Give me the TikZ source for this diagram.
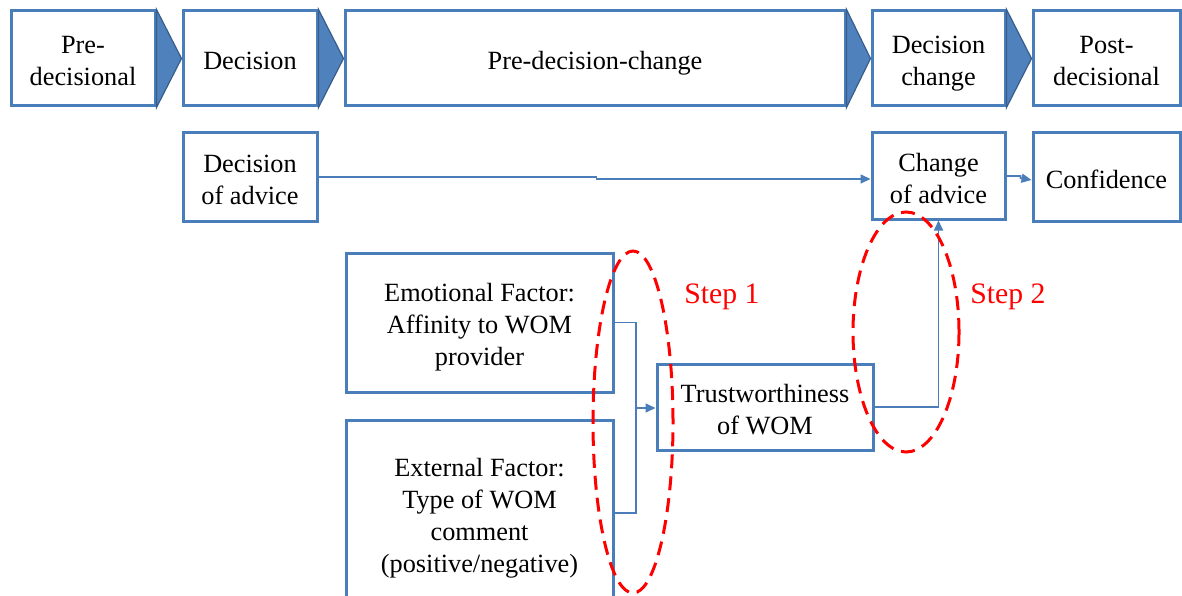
\documentclass[tikz,border=0pt]{standalone}
\usepackage{fontspec}
\setmainfont{Liberation Serif}
\usetikzlibrary{arrows.meta,calc}
\definecolor{boxblue}{RGB}{74,126,187}
\definecolor{chevfill}{RGB}{79,129,189}
\definecolor{chevline}{RGB}{56,93,138}
\definecolor{stepred}{RGB}{255,0,0}
% centred stack of lines with even strut spacing, set slightly low in its box
\newcommand\lines[1]{\raisebox{-5pt}[\height][\depth]{\begin{tabular}{@{}c@{}}#1\end{tabular}}}
\tikzset{
  stagebox/.style={draw=boxblue, line width=3pt, fill=white, inner sep=0pt,
    font=\fontsize{26.3}{32}\selectfont},
  chevron/.style={fill=chevfill, draw=chevline, line width=1.2pt, line join=miter},
  link/.style={draw=boxblue, line width=1.6pt},
  linkarrow/.style={link, -{Triangle[length=10pt,width=9pt]}},
  reddash/.style={draw=stepred, line width=3pt, dash pattern=on 14pt off 8pt},
  steplabel/.style={text=stepred, font=\fontsize{29.7}{34}\selectfont, inner sep=0pt}
}
\begin{document}
\begin{tikzpicture}[x=1pt, y=-1pt]
\useasboundingbox (0,0) rectangle (1182,596);
\clip (0,0) rectangle (1182,596);

% stage row
\node[stagebox, minimum width=144pt, minimum height=95pt] (pre)  at (83,58.5)    {\lines{Pre-\\decisional}};
\node[stagebox, minimum width=134pt, minimum height=95pt] (dec)  at (250,58.5)   {\lines{Decision}};
\node[stagebox, minimum width=500pt, minimum height=95pt] (pdc)  at (595,58.5)   {\lines{Pre-decision-change}};
\node[stagebox, minimum width=133pt, minimum height=95pt] (dch)  at (938.5,58.5) {\lines{Decision\\change}};
\node[stagebox, minimum width=147pt, minimum height=95pt] (post) at (1106.5,58.5) {\lines{Post-\\decisional}};

% chevrons between stages
\filldraw[chevron] (pre.north east) -- (dec.west) -- (pre.south east) -- cycle;
\filldraw[chevron] (dec.north east) -- (pdc.west) -- (dec.south east) -- cycle;
\filldraw[chevron] (pdc.north east) -- (dch.west) -- (pdc.south east) -- cycle;
\filldraw[chevron] (dch.north east) -- (post.west) -- (dch.south east) -- cycle;

% advice row
\node[stagebox, minimum width=134pt, minimum height=88pt] (doa)  at (250,177)    {\lines{Decision\\of advice}};
\node[stagebox, minimum width=133pt, minimum height=86pt] (coa)  at (938.5,176)  {\lines{Change\\of advice}};
\node[stagebox, minimum width=147pt, minimum height=88pt] (conf) at (1106.5,177) {\lines{Confidence}};

% factors and trust
\node[stagebox, minimum width=267pt, minimum height=139pt] (emo)   at (479.5,322.5) {\lines{Emotional Factor:\\Affinity to WOM\\provider}};
\node[stagebox, minimum width=267pt, minimum height=186pt] (ext)   at (479.5,513)   {\lines{External Factor:\\Type of WOM\\comment\\(positive/negative)}};
\node[stagebox, minimum width=216pt, minimum height=86pt]  (trust) at (765,407)     {\lines{Trustworthiness\\of WOM}};

% connectors
\draw[linkarrow] (doa.east) -- ++(278,0) -- ++(0,2) -- ($(coa.west)+(0,3)$);
\draw[linkarrow] (coa.east) -- ++(14,0) -- ++(0,2) -- ($(conf.west)+(0,3)$);
\coordinate (join) at (636,408);
\draw[link] (emo.east) -| (join);
\draw[link] (ext.east) -| (join);
\draw[linkarrow] (join) -- (join -| trust.west);
\draw[linkarrow] (trust.east) -| (coa.south);

% step markers
\draw[reddash] (633,422) ellipse [x radius=40pt, y radius=171pt];
\draw[reddash] (906,332) ellipse [x radius=53pt, y radius=120pt];
\node[steplabel] (s1) at (722,297) {Step 1};
\node[steplabel] (s2) at (1008,297) {Step 2};
\end{tikzpicture}
\end{document}
